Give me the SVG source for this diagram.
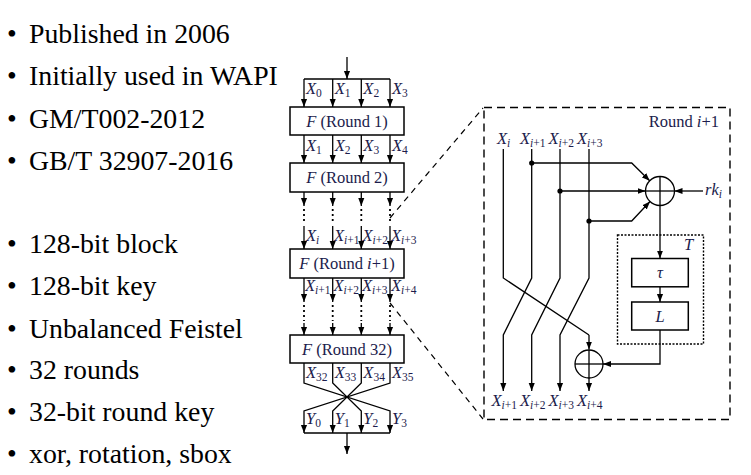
<svg xmlns="http://www.w3.org/2000/svg" width="751" height="475" viewBox="0 0 751 475">
<style>
.bl{font-family:"Liberation Serif","Times New Roman",serif;font-size:27.8px;fill:#000}
.lb{font-family:"Liberation Serif","Times New Roman",serif;font-size:16.5px;font-style:italic;fill:#1c1c4c}
.up{font-style:normal}
.sb{font-size:11.5px}
.bx{fill:#fff;stroke:#000;stroke-width:1.5}
.ln{fill:none;stroke:#000;stroke-width:1.3}
.ar{fill:none;stroke:#000;stroke-width:1.3;marker-end:url(#ah)}
.dt{fill:none;stroke:#000;stroke-width:1.8;stroke-dasharray:2 3}
.dsh{fill:none;stroke:#000;stroke-width:1.2;stroke-dasharray:6 5}
.bigbox{fill:none;stroke:#000;stroke-width:1.4;stroke-dasharray:8 5}
.tbox{fill:none;stroke:#000;stroke-width:1.4;stroke-dasharray:2 1.5}
.dot{fill:#000}
</style>
<defs>
<marker id="ah" viewBox="0 0 10 10" refX="10" refY="5" markerWidth="8" markerHeight="8" orient="auto" markerUnits="userSpaceOnUse">
<path d="M0,1.2 L10,5 L0,8.8 z" fill="#000"/>
</marker>
</defs>

<g id="bullets">
<text class="bl" x="7" y="43">•</text><text class="bl" x="29" y="43">Published in 2006</text>
<text class="bl" x="7" y="85">•</text><text class="bl" x="29" y="85">Initially used in WAPI</text>
<text class="bl" x="7" y="128">•</text><text class="bl" x="29" y="128">GM/T002-2012</text>
<text class="bl" x="7" y="170">•</text><text class="bl" x="29" y="170">GB/T 32907-2016</text>
<text class="bl" x="7" y="253">•</text><text class="bl" x="29" y="253">128-bit block</text>
<text class="bl" x="7" y="295">•</text><text class="bl" x="29" y="295">128-bit key</text>
<text class="bl" x="7" y="338">•</text><text class="bl" x="29" y="338">Unbalanced Feistel</text>
<text class="bl" x="7" y="379">•</text><text class="bl" x="29" y="379">32 rounds</text>
<text class="bl" x="7" y="421">•</text><text class="bl" x="29" y="421">32-bit round key</text>
<text class="bl" x="7" y="463">•</text><text class="bl" x="29" y="463">xor, rotation, sbox</text>
</g>

<g id="connectors">
<line class="ar" x1="347" y1="57" x2="347" y2="79"/>
<line class="ln" x1="304" y1="79" x2="390" y2="79"/>
<line class="ar" x1="304" y1="79" x2="304" y2="107"/>
<line class="ar" x1="332.7" y1="79" x2="332.7" y2="107"/>
<line class="ar" x1="361.3" y1="79" x2="361.3" y2="107"/>
<line class="ar" x1="390" y1="79" x2="390" y2="107"/>
<line class="ar" x1="304" y1="135" x2="304" y2="163"/>
<line class="ar" x1="332.7" y1="135" x2="332.7" y2="163"/>
<line class="ar" x1="361.3" y1="135" x2="361.3" y2="163"/>
<line class="ar" x1="390" y1="135" x2="390" y2="163"/>
<line class="ar" x1="304" y1="192" x2="304" y2="206"/>
<line class="ar" x1="332.7" y1="192" x2="332.7" y2="206"/>
<line class="ar" x1="361.3" y1="192" x2="361.3" y2="206"/>
<line class="ar" x1="390" y1="192" x2="390" y2="206"/>
<line class="dt" x1="304" y1="209" x2="304" y2="224"/>
<line class="dt" x1="332.7" y1="209" x2="332.7" y2="224"/>
<line class="dt" x1="361.3" y1="209" x2="361.3" y2="224"/>
<line class="dt" x1="390" y1="209" x2="390" y2="224"/>
<line class="ar" x1="304" y1="226" x2="304" y2="249"/>
<line class="ar" x1="332.7" y1="226" x2="332.7" y2="249"/>
<line class="ar" x1="361.3" y1="226" x2="361.3" y2="249"/>
<line class="ar" x1="390" y1="226" x2="390" y2="249"/>
<line class="ar" x1="304" y1="278" x2="304" y2="302"/>
<line class="ar" x1="332.7" y1="278" x2="332.7" y2="302"/>
<line class="ar" x1="361.3" y1="278" x2="361.3" y2="302"/>
<line class="ar" x1="390" y1="278" x2="390" y2="302"/>
<line class="dt" x1="304" y1="305" x2="304" y2="321"/>
<line class="dt" x1="332.7" y1="305" x2="332.7" y2="321"/>
<line class="dt" x1="361.3" y1="305" x2="361.3" y2="321"/>
<line class="dt" x1="390" y1="305" x2="390" y2="321"/>
<line class="ar" x1="304" y1="323" x2="304" y2="335"/>
<line class="ar" x1="332.7" y1="323" x2="332.7" y2="335"/>
<line class="ar" x1="361.3" y1="323" x2="361.3" y2="335"/>
<line class="ar" x1="390" y1="323" x2="390" y2="335"/>
<polyline class="ar" points="304,363 304,383 390,411 390,433"/>
<polyline class="ar" points="332.7,363 332.7,383 361.3,411 361.3,433"/>
<polyline class="ar" points="361.3,363 361.3,383 332.7,411 332.7,433"/>
<polyline class="ar" points="390,363 390,383 304,411 304,433"/>
<line class="ln" x1="304" y1="433" x2="390" y2="433"/>
<line class="ar" x1="347" y1="433" x2="347" y2="454"/>
<line class="dsh" x1="390" y1="218" x2="483" y2="108"/>
<line class="dsh" x1="390" y1="303" x2="483" y2="419"/>
<polyline class="ln" points="503.3,149 503.3,278 589,335"/>
<polyline class="ar" points="589,335 589,349.5"/>
<polyline class="ar" points="531.7,149 531.7,278 503.3,335 503.3,391"/>
<polyline class="ar" points="560,149 560,278 531.7,335 531.7,391"/>
<polyline class="ar" points="589,149 589,278 560,335 560,391"/>
<line class="ar" x1="589" y1="378" x2="589" y2="391"/>
<polyline class="ar" points="531.7,163 631.7,163 649.7,180.8"/>
<line class="ar" x1="560" y1="191" x2="645.5" y2="191"/>
<polyline class="ar" points="589,221 631.7,221 650,201.5"/>
<line class="ar" x1="703" y1="191" x2="674.5" y2="191"/>
<line class="ar" x1="660" y1="205.5" x2="660" y2="258.5"/>
<line class="ar" x1="660" y1="287" x2="660" y2="302"/>
<polyline class="ar" points="660,330 660,364 603,364"/>
</g>

<g id="box-round1">
<rect class="bx" x="290" y="107" width="114" height="28"/>
<text class="lb" x="347" y="126.5" text-anchor="middle">F<tspan class="up"> (Round 1)</tspan></text>
</g>
<g id="box-round2">
<rect class="bx" x="290" y="163" width="114" height="29"/>
<text class="lb" x="347" y="183" text-anchor="middle">F<tspan class="up"> (Round 2)</tspan></text>
</g>
<g id="box-roundi">
<rect class="bx" x="290" y="249" width="114" height="29"/>
<text class="lb" x="347" y="269" text-anchor="middle">F<tspan class="up"> (Round </tspan>i<tspan class="up">+1)</tspan></text>
</g>
<g id="box-round32">
<rect class="bx" x="290" y="335" width="114" height="28"/>
<text class="lb" x="347" y="355" text-anchor="middle">F<tspan class="up"> (Round 32)</tspan></text>
</g>

<g id="labels-mid">
<text class="lb" x="306" y="94">X<tspan class="sb up" dy="3">0</tspan></text>
<text class="lb" x="334.7" y="94">X<tspan class="sb up" dy="3">1</tspan></text>
<text class="lb" x="363.3" y="94">X<tspan class="sb up" dy="3">2</tspan></text>
<text class="lb" x="392" y="94">X<tspan class="sb up" dy="3">3</tspan></text>
<text class="lb" x="306" y="151">X<tspan class="sb up" dy="3">1</tspan></text>
<text class="lb" x="334.7" y="151">X<tspan class="sb up" dy="3">2</tspan></text>
<text class="lb" x="363.3" y="151">X<tspan class="sb up" dy="3">3</tspan></text>
<text class="lb" x="392" y="151">X<tspan class="sb up" dy="3">4</tspan></text>
<text class="lb" x="306" y="241">X<tspan class="sb" dy="3">i</tspan></text>
<text class="lb" x="334" y="241">X<tspan class="sb" dy="3">i</tspan><tspan class="sb up">+1</tspan></text>
<text class="lb" x="362.5" y="241">X<tspan class="sb" dy="3">i</tspan><tspan class="sb up">+2</tspan></text>
<text class="lb" x="391" y="241">X<tspan class="sb" dy="3">i</tspan><tspan class="sb up">+3</tspan></text>
<text class="lb" x="305" y="291">X<tspan class="sb" dy="3">i</tspan><tspan class="sb up">+1</tspan></text>
<text class="lb" x="333.5" y="291">X<tspan class="sb" dy="3">i</tspan><tspan class="sb up">+2</tspan></text>
<text class="lb" x="362" y="291">X<tspan class="sb" dy="3">i</tspan><tspan class="sb up">+3</tspan></text>
<text class="lb" x="391" y="291">X<tspan class="sb" dy="3">i</tspan><tspan class="sb up">+4</tspan></text>
<text class="lb" x="306" y="378">X<tspan class="sb up" dy="3">32</tspan></text>
<text class="lb" x="334.7" y="378">X<tspan class="sb up" dy="3">33</tspan></text>
<text class="lb" x="363.3" y="378">X<tspan class="sb up" dy="3">34</tspan></text>
<text class="lb" x="392" y="378">X<tspan class="sb up" dy="3">35</tspan></text>
<text class="lb" x="306" y="424">Y<tspan class="sb up" dy="3">0</tspan></text>
<text class="lb" x="334.7" y="424">Y<tspan class="sb up" dy="3">1</tspan></text>
<text class="lb" x="363.3" y="424">Y<tspan class="sb up" dy="3">2</tspan></text>
<text class="lb" x="392" y="424">Y<tspan class="sb up" dy="3">3</tspan></text>
</g>

<g id="round-detail">
<rect class="bigbox" x="484" y="107.5" width="246" height="312"/>
<text class="lb" x="719" y="127" text-anchor="end"><tspan class="up">Round </tspan>i<tspan class="up">+1</tspan></text>
<text class="lb" x="497" y="144">X<tspan class="sb" dy="3">i</tspan></text>
<text class="lb" x="520" y="144">X<tspan class="sb" dy="3">i</tspan><tspan class="sb up">+1</tspan></text>
<text class="lb" x="548.5" y="144">X<tspan class="sb" dy="3">i</tspan><tspan class="sb up">+2</tspan></text>
<text class="lb" x="577" y="144">X<tspan class="sb" dy="3">i</tspan><tspan class="sb up">+3</tspan></text>
<text class="lb" x="491.5" y="406">X<tspan class="sb" dy="3">i</tspan><tspan class="sb up">+1</tspan></text>
<text class="lb" x="520" y="406">X<tspan class="sb" dy="3">i</tspan><tspan class="sb up">+2</tspan></text>
<text class="lb" x="548.5" y="406">X<tspan class="sb" dy="3">i</tspan><tspan class="sb up">+3</tspan></text>
<text class="lb" x="577" y="406">X<tspan class="sb" dy="3">i</tspan><tspan class="sb up">+4</tspan></text>
<text class="lb" x="705" y="195">rk<tspan class="sb" dy="3">i</tspan></text>
<circle class="dot" cx="531.7" cy="163" r="2.6"/>
<circle class="dot" cx="560" cy="191" r="2.6"/>
<circle class="dot" cx="589" cy="221" r="2.6"/>
</g>

<g id="xor-top">
<circle cx="660" cy="191" r="14.5" fill="none" stroke="#000" stroke-width="1.3"/>
<line class="ln" x1="645.5" y1="191" x2="674.5" y2="191"/>
<line class="ln" x1="660" y1="176.5" x2="660" y2="205.5"/>
</g>

<g id="T-box">
<rect class="tbox" x="617.5" y="235" width="86" height="109"/>
<text class="lb" x="684" y="250">T</text>
</g>
<g id="tau">
<rect class="bx" x="631.7" y="258.5" width="56.6" height="28.3"/>
<text class="lb" x="660" y="278" text-anchor="middle">τ</text>
</g>
<g id="L">
<rect class="bx" x="631.7" y="302" width="56.6" height="28"/>
<text class="lb" x="660" y="321.5" text-anchor="middle">L</text>
</g>

<g id="xor-bottom">
<circle cx="589" cy="364" r="14" fill="none" stroke="#000" stroke-width="1.3"/>
<line class="ln" x1="575" y1="364" x2="603" y2="364"/>
<line class="ln" x1="589" y1="350" x2="589" y2="378"/>
</g>
</svg>
